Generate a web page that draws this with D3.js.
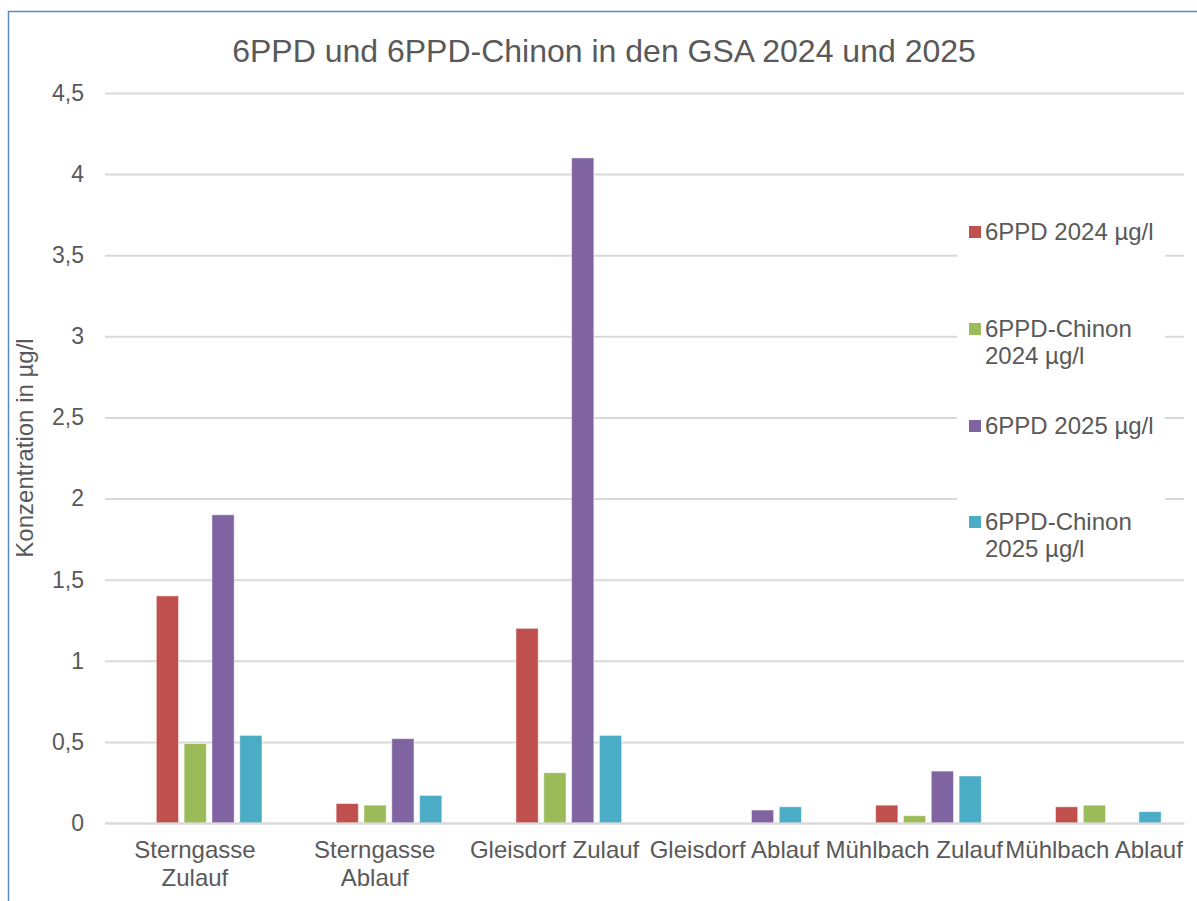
<!DOCTYPE html>
<html>
<head>
<meta charset="utf-8">
<script src="https://cdn.jsdelivr.net/npm/d3@7"></script>
<style>
  body { margin: 0; background: #fff; }
  svg text { font-family: "Liberation Sans", Arial, sans-serif; fill: #595959; }
</style>
</head>
<body>
<div id="chart"></div>
<script>
// categories (\n = line break in the axis label)
var categories = ["Sterngasse\nZulauf", "Sterngasse\nAblauf", "Gleisdorf Zulauf", "Gleisdorf Ablauf", "Mühlbach Zulauf", "Mühlbach Ablauf"];
var seriesNames = ["6PPD 2024 µg/l", "6PPD-Chinon\n2024 µg/l", "6PPD 2025 µg/l", "6PPD-Chinon\n2025 µg/l"];
var seriesColors = ["#C0504D", "#9BBB59", "#8064A2", "#4BACC6"];

var ppd2024 = [1.4, 0.12, 1.2, 0, 0.11, 0.1];
var chinon2024 = [0.49, 0.11, 0.31, 0, 0.045, 0.11];
var ppd2025 = [1.9, 0.52, 4.1, 0.08, 0.32, 0];
var chinon2025 = [0.54, 0.17, 0.54, 0.1, 0.29, 0.07];

var yTicks = [0, 0.5, 1, 1.5, 2, 2.5, 3, 3.5, 4, 4.5];

var allSeries = [ppd2024, chinon2024, ppd2025, chinon2025];

var W = 1197, H = 901;
var margin = { top: 93, right: 13, bottom: 78, left: 105 };
var width = W - margin.left - margin.right;
var height = H - margin.top - margin.bottom;

var svg = d3.select("#chart").append("svg")
  .attr("width", W)
  .attr("height", H);

// outer frame
svg.append("rect")
  .attr("x", 8.5).attr("y", 11.5)
  .attr("width", W + 10).attr("height", H + 10)
  .attr("fill", "none")
  .attr("stroke", "#5B87C5")
  .attr("stroke-width", 1.5);

svg.append("text")
  .attr("x", 604).attr("y", 62)
  .attr("text-anchor", "middle")
  .style("font-size", "32px")
  .text("6PPD und 6PPD-Chinon in den GSA 2024 und 2025");

var g = svg.append("g")
  .attr("transform", "translate(" + margin.left + "," + margin.top + ")");

var x0 = d3.scaleBand().domain(categories).range([0, width]);
var x1 = d3.scaleBand().domain(d3.range(allSeries.length))
  .range([51.3, 157]).paddingInner(0.2);
var y = d3.scaleLinear().domain([0, 4.5]).range([height, 0]);

var comma = function(d) { return String(d).replace(".", ","); };

// y axis + gridlines
var yAxis = g.append("g")
  .call(d3.axisLeft(y).tickValues(yTicks).tickSize(-width).tickPadding(21).tickFormat(comma));
yAxis.select(".domain").remove();
yAxis.selectAll("line").attr("stroke", "#D9D9D9").attr("stroke-width", 2);
yAxis.selectAll("text").style("font-size", "23px").attr("fill", "#595959");

// legend background hides the gridlines behind it
svg.append("rect")
  .attr("x", 957).attr("y", 195)
  .attr("width", 208).attr("height", 375)
  .attr("fill", "#fff");

// bars
var groups = g.selectAll(".grp")
  .data(categories)
  .enter().append("g")
  .attr("class", "grp")
  .attr("transform", function(d) { return "translate(" + x0(d) + ",0)"; });

groups.selectAll("rect")
  .data(function(d, i) { return allSeries.map(function(s, k) { return { k: k, v: s[i] }; }); })
  .enter().append("rect")
  .filter(function(d) { return d.v > 0; })
  .attr("x", function(d) { return x1(d.k); })
  .attr("y", function(d) { return y(d.v); })
  .attr("width", x1.bandwidth())
  .attr("height", function(d) { return height - y(d.v); })
  .attr("fill", function(d) { return seriesColors[d.k]; })
  .attr("stroke", "#ffffff")
  .attr("stroke-opacity", 0.5)
  .attr("stroke-width", 1);

// x axis
var xAxis = g.append("g")
  .attr("transform", "translate(0," + height + ")")
  .call(d3.axisBottom(x0).tickSize(0).tickFormat(""));
xAxis.select(".domain").attr("stroke", "#D9D9D9").attr("stroke-width", 2);
xAxis.selectAll(".tick").each(function(d) {
  var t = d3.select(this).append("text")
    .attr("text-anchor", "middle")
    .attr("y", 35)
    .style("font-size", "24px");
  d.split("\n").forEach(function(line, i) {
    t.append("tspan").attr("x", 0).attr("dy", i === 0 ? 0 : 28).text(line);
  });
});

// axis title
svg.append("text")
  .attr("transform", "translate(33,448) rotate(-90)")
  .attr("text-anchor", "middle")
  .style("font-size", "24px")
  .text("Konzentration in µg/l");

// legend
var legendY = [232, 329, 426, 522];
var legend = svg.selectAll(".leg")
  .data(seriesNames)
  .enter().append("g")
  .attr("class", "leg")
  .attr("transform", function(d, i) { return "translate(969," + legendY[i] + ")"; });
legend.append("rect")
  .attr("x", 0).attr("y", -6)
  .attr("width", 12).attr("height", 12)
  .attr("fill", function(d, i) { return seriesColors[i]; });
legend.append("text")
  .attr("x", 16).attr("y", 8)
  .style("font-size", "24px")
  .each(function(d) {
    var t = d3.select(this);
    d.split("\n").forEach(function(line, i) {
      t.append("tspan").attr("x", 16).attr("dy", i === 0 ? 0 : 27).text(line);
    });
  });
</script>
</body>
</html>
